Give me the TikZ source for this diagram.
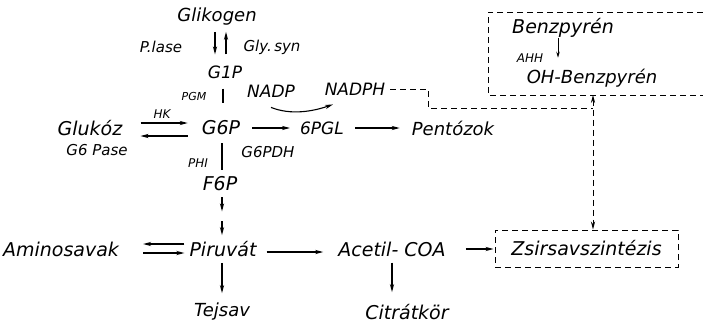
\documentclass[tikz,border=0pt]{standalone}
\usepackage{fontspec}
\setmainfont{DejaVu Sans}
\usetikzlibrary{arrows.meta}
\begin{document}
\begin{tikzpicture}[x=1pt,y=-1pt,
  lbl/.style={inner sep=0pt, font=\fontsize{19}{21}\selectfont\itshape},
  lblb/.style={inner sep=0pt, font=\fontsize{18}{20}\selectfont\itshape},
  midl/.style={inner sep=0pt, font=\fontsize{17}{19}\selectfont\itshape},
  sml/.style={inner sep=0pt, font=\fontsize{15}{17}\selectfont\itshape},
  tny/.style={inner sep=0pt, font=\fontsize{12}{14}\selectfont\itshape},
  arr/.style={line width=1.1pt, -{Stealth[length=8pt,width=4.2pt]}},
  arrs/.style={line width=0.8pt, -{Stealth[length=6pt,width=3.5pt]}},
  ln/.style={line width=1.1pt},
  dsh/.style={line width=1pt, dash pattern=on 6pt off 4pt},
  dbox/.style={draw, line width=1pt, dash pattern=on 6pt off 4pt},
]
\useasboundingbox (0,0) rectangle (703,327);

% nodes
\node[lblb] (glik) at (217,17) {Glikogen};
\node[sml] (plase) at (161,47) {P.lase};
\node[sml] (glysyn) at (272,47) {Gly.\,syn};
\node[midl] (g1p) at (225,72) {G1P};
\node[tny, font=\fontsize{11}{13}\selectfont\itshape] (pgm) at (194,96) {PGM};
\node[midl] (nadp) at (271,91) {NADP};
\node[midl] (nadph) at (355,89) {NADPH};
\node[tny] (hk) at (162,114) {HK};
\node[lbl] (glukoz) at (90,128) {Glukóz};
\node[lbl] (g6p) at (221,128) {G6P};
\node[midl] (pgl) at (322,128) {6PGL};
\node[lblb] (pent) at (453,128) {Pentózok};
\node[sml] (g6pase) at (97,150) {G6 Pase};
\node[tny] (phi) at (198,163) {PHI};
\node[sml] (g6pdh) at (268,152) {G6PDH};
\node[lbl] (f6p) at (220,184) {F6P};
\node[lbl] (amino) at (61,249) {Aminosavak};
\node[lbl] (piru) at (223,249) {Piruvát};
\node[lbl] (acetil) at (392,249) {Acetil- COA};
\node[lbl, dbox, minimum width=183pt, minimum height=37pt] (zsir) at (586.5,248.5) {Zsirsavszintézis};
\node[lblb] (tejsav) at (222,312) {Tejsav};
\node[lbl] (citrat) at (407,312) {Citrátkör};
\node[lbl] (benz) at (563,28) {Benzpyrén};
\node[tny] (ahh) at (530,58) {AHH};
\node[lblb] (ohbenz) at (592,78) {OH-Benzpyrén};

\coordinate (jn) at (593,108);
\coordinate (bb) at (593,95);

% big dashed box (open on the right, runs to the edge)
\draw[dsh] (703,12) -| (488,95) -- (703,95);

% connectors
\draw[arr, shorten <=6pt, shorten >=11pt] (glik.south -| 215,0) -- (g1p.north -| 215,0);
\draw[arr, shorten <=11pt, shorten >=6pt] (g1p.north -| 226,0) -- (glik.south -| 226,0);
\draw[ln, shorten <=10pt, shorten >=18pt] (g1p.south -| 223,0) -- (g6p.north -| 223,0);
\draw[arr] ([yshift=-10pt]nadp.south) .. controls +(20pt,-8pt) and +(-20pt,-7pt) .. ([xshift=-22pt,yshift=-9pt]nadph.south);
\draw[dsh] ([xshift=5pt]nadph.east) -- ++(38,0) |- (jn);
\draw[dsh, {Stealth[length=8pt,width=4.2pt]}-{Stealth[length=8pt,width=4.2pt]}] (bb) -- (zsir.north -| bb);

\draw[arrs, shorten >=11pt] (benz.south -| 558,0) -- (ohbenz.north -| 558,0);

\draw[arr, shorten <=18pt, shorten >=14pt] ([yshift=5pt]glukoz.east) -- ([yshift=5pt]g6p.west);
\draw[arr, shorten <=14pt, shorten >=18pt] ([yshift=-8pt]g6p.west) -- ([yshift=-8pt]glukoz.east);
\draw[arr, shorten <=12pt, shorten >=10pt] (g6p.east) -- (pgl.west);
\draw[arr, shorten <=11pt, shorten >=12pt] (pgl.east) -- (pent.west);
\draw[ln, shorten <=8pt, shorten >=7pt] (g6p.south -| 222,0) -- (f6p.north -| 222,0);

\draw[arr, shorten <=6pt] (f6p.south -| 222,0) -- ++(0,20);
\draw[arr, shorten >=6pt] (piru.north -| 222,0) ++(0,-20) -- (piru.north -| 222,0);

\draw[arr, shorten <=5pt, shorten >=24pt] ([yshift=5pt]piru.west) -- ([yshift=5pt]amino.east);
\draw[arr, shorten <=24pt, shorten >=5pt] ([yshift=-4pt]amino.east) -- ([yshift=-4pt]piru.west);
\draw[arr, shorten <=10pt, shorten >=15pt] ([yshift=-3pt]piru.east) -- ([yshift=-3pt]acetil.west);
\draw[arr, shorten <=6pt, shorten >=10pt] (piru.south -| 222,0) -- (tejsav.north -| 222,0);
\draw[arr, shorten <=6pt, shorten >=12pt] (acetil.south -| 392,0) -- (citrat.north -| 392,0);
\draw[arr, shorten <=20pt, shorten >=1pt] (acetil.east) -- (acetil.east -| zsir.west);
\end{tikzpicture}
\end{document}
